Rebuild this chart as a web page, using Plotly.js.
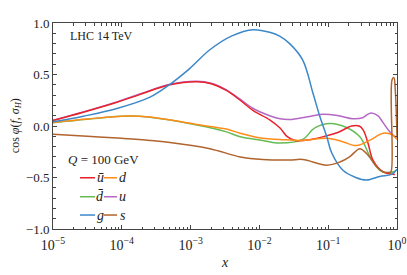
<!DOCTYPE html>
<html><head><meta charset="utf-8">
<script src="https://cdn.plot.ly/plotly-3.0.1.min.js"></script>
<style>html,body{margin:0;padding:0;background:#fff}#chart{width:407px;height:275px}</style>
</head><body><div id="chart"></div>
<script>
// log10(x) sample positions and cos(phi) values per parton
const gLogX = [-5, -4.56, -4.07, -3.59, -3.30, -3.01, -2.72, -2.4, -2.09, -1.85, -1.70, -1.56, -1.37, -1.22, -1.12, -1.02, -0.95, -0.785, -0.6, -0.44, -0.25, -0.08, 0];
const gVal  = [0.04, 0.095, 0.17, 0.28, 0.405, 0.56, 0.74, 0.875, 0.935, 0.91, 0.87, 0.80, 0.64, 0.315, 0.09, -0.105, -0.26, -0.43, -0.50, -0.525, -0.49, -0.47, -0.42];

const uLogX = [-5, -4.56, -4.07, -3.74, -3.30, -2.91, -2.7, -2.48, -2.28, -2.09, -1.85, -1.70, -1.56, -1.3, -1.08, -0.85, -0.64, -0.5, -0.39, -0.28, -0.2, -0.1, 0];
const uVal  = [0.056, 0.137, 0.234, 0.31, 0.405, 0.434, 0.415, 0.35, 0.26, 0.17, 0.10, 0.07, 0.063, 0.09, 0.115, 0.10, 0.07, 0.08, 0.125, 0.10, 0.03, -0.06, -0.12];

const ubLogX = [-5, -4.56, -4.07, -3.74, -3.30, -2.91, -2.7, -2.48, -2.28, -2.09, -1.85, -1.70, -1.60, -1.48, -1.25, -1.05, -0.85, -0.66, -0.55, -0.49, -0.42, -0.35, -0.20, -0.03];
const ubVal  = [0.052, 0.133, 0.23, 0.305, 0.40, 0.43, 0.41, 0.345, 0.25, 0.15, 0.06, -0.02, -0.10, -0.14, -0.13, -0.10, -0.06, 0.0, 0.0, -0.04, -0.17, -0.33, -0.445, -0.47];

const dbLogX = [-5, -4.5, -3.93, -3.59, -2.91, -2.48, -2.28, -1.95, -1.75, -1.37, -1.2, -0.97, -0.75, -0.54, -0.39, -0.25, -0.13, -0.03];
const dbVal  = [0.032, 0.065, 0.096, 0.085, 0.01, -0.057, -0.105, -0.14, -0.165, -0.13, -0.02, 0.025, -0.01, -0.105, -0.30, -0.43, -0.455, -0.44];

const dLogX = [-5, -4.5, -3.93, -3.59, -2.91, -2.48, -2.28, -1.95, -1.70, -1.37, -1.02, -0.8, -0.59, -0.4, -0.2, -0.06, 0];
const dVal  = [0.034, 0.068, 0.098, 0.088, 0.015, -0.03, -0.07, -0.12, -0.13, -0.14, -0.12, -0.15, -0.19, -0.14, -0.07, -0.09, -0.13];

const sLogX = [-5, -4.5, -4, -3.59, -3.3, -2.72, -2.28, -1.95, -1.56, -1.37, -1.02, -0.83, -0.69, -0.54, -0.44, -0.29, -0.2, -0.11, -0.085, -0.072, -0.045, -0.025, 0];
const sVal  = [-0.08, -0.10, -0.12, -0.14, -0.16, -0.22, -0.30, -0.325, -0.33, -0.325, -0.38, -0.35, -0.30, -0.22, -0.27, -0.40, -0.445, -0.45, -0.44, 0.45, 0.47, 0.35, -0.1];

const names  = ['ū', 'd', 'd̄', 'u', 'g', 's'];
const colors = ['#e8232a', '#ff8c1a', '#66bb55', '#b468c4', '#3d88c9', '#b0642e'];
const xTickExp = [-5, -4, -3, -2, -1, 0];
const xTickText = ['10<sup>−5</sup>', '10<sup>−4</sup>', '10<sup>−3</sup>', '10<sup>−2</sup>', '10<sup>−1</sup>', '10<sup>0</sup>'];
const minorMult = [2, 3, 4, 5, 6, 7, 8, 9];

const series = [[ubLogX, ubVal], [dLogX, dVal], [dbLogX, dbVal], [uLogX, uVal], [gLogX, gVal], [sLogX, sVal]];
const drawOrder = [3, 2, 0, 1, 4, 5];
const traces = drawOrder.map(i => ({
  x: series[i][0].map(l => Math.pow(10, l)),
  y: series[i][1],
  type: 'scatter', mode: 'lines', name: names[i], showlegend: false,
  line: {color: colors[i], width: 1.5, shape: 'spline', smoothing: 1}
}));
const minorX = [];
xTickExp.slice(0, -1).forEach(d => minorMult.forEach(m => minorX.push(m * Math.pow(10, d))));

const L = 53, R = 397, T = 22.7, B = 229;
const px = v => (v - L) / (R - L), py = v => (B - v) / (B - T);
const shapes = [], annotations = [];
const rowsY = [177.7, 196.7, 215];
const colLine = [[80, 95], [104, 117]], colLab = [100, 122.7];
const FONT = '"Liberation Serif", "DejaVu Serif", serif';
names.forEach((n, i) => {
  const r = Math.floor(i / 2), c = i % 2;
  shapes.push({type: 'line', xref: 'paper', yref: 'paper', x0: px(colLine[c][0]), x1: px(colLine[c][1]),
    y0: py(rowsY[r]), y1: py(rowsY[r]), line: {color: colors[i], width: 1.5}});
  annotations.push({xref: 'paper', yref: 'paper', x: px(colLab[c]), y: py(rowsY[r]), text: '<i>' + n + '</i>',
    showarrow: false, xanchor: 'center', yanchor: 'middle', font: {family: FONT, size: 14, color: '#222'}});
});
annotations.push({xref: 'paper', yref: 'paper', x: px(66), y: py(159), text: '<i>Q</i> = 100 GeV',
  showarrow: false, xanchor: 'left', yanchor: 'middle', font: {family: FONT, size: 13, color: '#222'}});
annotations.push({xref: 'paper', yref: 'paper', x: px(68), y: py(35.5), text: 'LHC 14 TeV',
  showarrow: false, xanchor: 'left', yanchor: 'middle', font: {family: FONT, size: 12, color: '#222'}});
annotations.push({xref: 'paper', yref: 'paper', x: px(16), y: py(126), textangle: -90,
  text: 'cos <i>φ</i>(<i>f</i>, <i>σ<sub>H</sub></i>)',
  showarrow: false, xanchor: 'center', yanchor: 'middle', font: {family: FONT, size: 12, color: '#222'}});

const layout = {
  width: 407, height: 275,
  margin: {l: L, r: 407 - R, t: T, b: 275 - B},
  paper_bgcolor: '#fff', plot_bgcolor: '#fff',
  font: {family: FONT, color: '#222', size: 13},
  xaxis: {type: 'log', range: [-5, 0], tickmode: 'array', tickvals: xTickExp.map(e => Math.pow(10, e)), ticktext: xTickText,
    showgrid: false, zeroline: false, ticklabelstandoff: 3,
    showline: true, linecolor: '#444', linewidth: 1, mirror: 'ticks', ticks: 'inside', ticklen: 4, tickcolor: '#444',
    minor: {ticks: 'inside', ticklen: 2.5, tickcolor: '#444', showgrid: false, tickmode: 'array', tickvals: minorX},
    title: {text: '<i>x</i>', font: {family: FONT, size: 14}, standoff: 5}, tickfont: {family: FONT, size: 14}},
  yaxis: {range: [-1, 1], dtick: 0.5, tickformat: '.1f', showgrid: false, zeroline: false,
    showline: true, linecolor: '#444', linewidth: 1, mirror: 'ticks', ticks: 'inside', ticklen: 4, tickcolor: '#444',
    minor: {ticks: 'inside', ticklen: 2.5, dtick: 0.1, tickcolor: '#444', showgrid: false},
    tickfont: {family: FONT, size: 13}},
  shapes: shapes, annotations: annotations
};
Plotly.newPlot('chart', traces, layout, {displayModeBar: false, staticPlot: true});
</script></body></html>
